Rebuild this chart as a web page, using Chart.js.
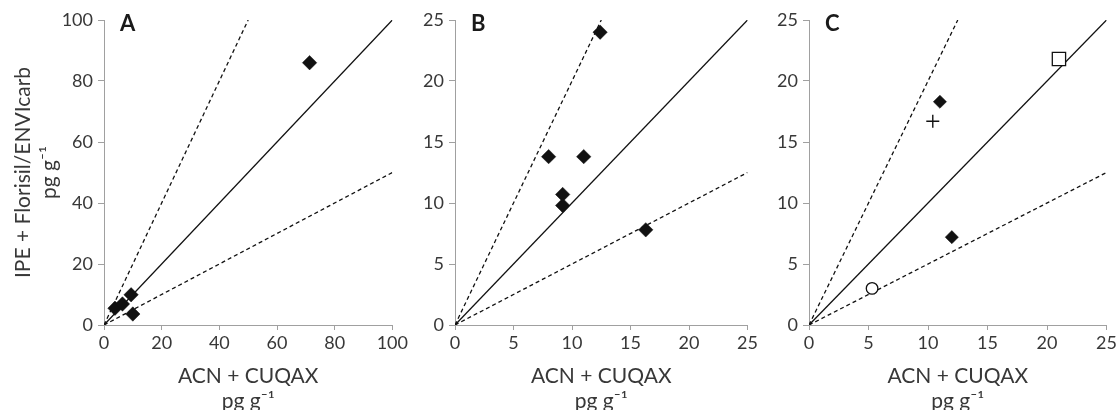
<!DOCTYPE html>
<html><head><meta charset="utf-8">
<script src="https://cdn.jsdelivr.net/npm/chart.js@4"></script>
<style>
html,body{margin:0;padding:0;background:#fff;}
#wrap{position:relative;width:1119px;height:410px;overflow:hidden;}
.panel{position:absolute;top:0;height:410px;}
</style></head><body>
<div id="wrap">
<div class="panel" style="left:0;width:410px"><canvas id="cA"></canvas></div>
<div class="panel" style="left:410px;width:350px"><canvas id="cB"></canvas></div>
<div class="panel" style="left:760px;width:359px"><canvas id="cC"></canvas></div>
</div>
<script>
// ---- data ----
const panelLabels = ['A', 'B', 'C'];
const xAxisTitle = ['ACN + CUQAX', 'pg g\u207B\u00B9'];
const yAxisTitle = ['IPE + Florisil/ENVIcarb', 'pg g\u207B\u00B9'];
const axisMaxA = 100, axisStepA = 20;
const axisMaxBC = 25, axisStepBC = 5;

// panel A points
const aX = [3.8, 6.4, 9.4, 10.0, 71.3];
const aY = [5.5, 6.9, 9.9, 3.6, 86.0];
// panel B points
const bX = [12.4, 8.0, 11.0, 9.2, 9.2, 16.3];
const bY = [24.0, 13.8, 13.8, 10.7, 9.8, 7.8];
// panel C points (different markers)
const cDiamondX = [11.0, 12.0];
const cDiamondY = [18.3, 7.2];
const cPlusX = [10.4];
const cPlusY = [16.7];
const cSquareX = [21.0];
const cSquareY = [21.8];
const cCircleX = [5.3];
const cCircleY = [3.0];

// reference lines (1:1, 2:1, 1:2)
const refA_solidX = [0, 100], refA_solidY = [0, 100];
const refA_upperX = [0, 50],  refA_upperY = [0, 100];
const refA_lowerX = [0, 100], refA_lowerY = [0, 50];
const refBC_solidX = [0, 25],   refBC_solidY = [0, 25];
const refBC_upperX = [0, 12.5], refBC_upperY = [0, 25];
const refBC_lowerX = [0, 25],   refBC_lowerY = [0, 12.5];

// ---- helpers ----
const FONT = 'Lato, "Open Sans", sans-serif';
const TEXT = '#383838';
const AXIS = '#a0a0a0';
const zip = (xs, ys) => xs.map((x, i) => ({x: x, y: ys[i]}));

function markerDs(xs, ys, style, radius, fill, border, bw) {
  return {type: 'scatter', data: zip(xs, ys), pointStyle: style, pointRadius: radius,
    pointHoverRadius: radius, backgroundColor: fill, borderColor: border, pointBorderWidth: bw, borderWidth: bw, showLine: false};
}
function lineDs(xs, ys, dash) {
  return {type: 'scatter', data: zip(xs, ys), showLine: true, pointRadius: 0, borderColor: '#111',
    borderWidth: 1.3, borderDash: dash, fill: false};
}

const panelLabelPlugin = {
  id: 'panelLabel',
  afterDraw(chart, args, opts) {
    const ctx = chart.ctx;
    ctx.save();
    ctx.font = 'bold 22px ' + FONT;
    ctx.fillStyle = '#1a1a1a';
    ctx.textAlign = 'left';
    ctx.textBaseline = 'middle';
    ctx.fillText(opts.text, chart.chartArea.left + opts.dx, chart.chartArea.top + opts.dy);
    ctx.restore();
  }
};

function makeChart(id, datasets, max, step, yWidth, rightPad, label, showYTitle) {
  return new Chart(document.getElementById(id), {
    data: {datasets: datasets},
    options: {
      responsive: true, maintainAspectRatio: false, animation: false, devicePixelRatio: 1,
      layout: {padding: {top: 20, right: rightPad, left: 0, bottom: 0}},
      plugins: {legend: {display: false}, tooltip: {enabled: false},
        panelLabel: {text: label, dx: 16, dy: 4}},
      scales: {
        x: {type: 'linear', min: 0, max: max,
          ticks: {stepSize: step, color: TEXT, font: {family: FONT, size: 18}, padding: 2},
          grid: {display: true, drawOnChartArea: false, drawTicks: true, tickLength: 5, color: AXIS},
          border: {display: true, color: AXIS, width: 1},
          title: {display: true, text: xAxisTitle, color: TEXT, font: {family: FONT, size: 21, lineHeight: 1.2}, padding: {top: 0, bottom: -4}},
          afterFit: s => { s.height = 85; }
        },
        y: {type: 'linear', min: 0, max: max,
          ticks: {stepSize: step, color: TEXT, font: {family: FONT, size: 18}, padding: 5},
          grid: {display: true, drawOnChartArea: false, drawTicks: true, tickLength: 6, color: AXIS},
          border: {display: true, color: AXIS, width: 1},
          title: {display: showYTitle, text: yAxisTitle, color: TEXT, font: {family: FONT, size: 21, lineHeight: 1.25}, padding: {top: 10, bottom: 0}},
          afterFit: s => { s.width = yWidth; }
        }
      }
    },
    plugins: [panelLabelPlugin]
  });
}

const dsA = [
  markerDs(aX, aY, 'rectRot', 7.2, '#111', '#111', 0.5),
  lineDs(refA_solidX, refA_solidY, []),
  lineDs(refA_upperX, refA_upperY, [4, 3]),
  lineDs(refA_lowerX, refA_lowerY, [4, 3])
];
const dsB = [
  markerDs(bX, bY, 'rectRot', 7.2, '#111', '#111', 0.5),
  lineDs(refBC_solidX, refBC_solidY, []),
  lineDs(refBC_upperX, refBC_upperY, [4, 3]),
  lineDs(refBC_lowerX, refBC_lowerY, [4, 3])
];
const dsC = [
  markerDs(cDiamondX, cDiamondY, 'rectRot', 6.6, '#111', '#111', 0.5),
  markerDs(cPlusX, cPlusY, 'cross', 6.5, '#111', '#111', 1.4),
  markerDs(cSquareX, cSquareY, 'rect', 9.4, '#fff', '#111', 1.3),
  markerDs(cCircleX, cCircleY, 'circle', 5.8, '#fff', '#111', 1.3),
  lineDs(refBC_solidX, refBC_solidY, []),
  lineDs(refBC_upperX, refBC_upperY, [4, 3]),
  lineDs(refBC_lowerX, refBC_lowerY, [4, 3])
];

makeChart('cA', dsA, axisMaxA, axisStepA, 104, 12, panelLabels[0], true);
makeChart('cB', dsB, axisMaxBC, axisStepBC, 45, 10, panelLabels[1], false);
makeChart('cC', dsC, axisMaxBC, axisStepBC, 49, 8, panelLabels[2], false);
</script>
</body></html>
